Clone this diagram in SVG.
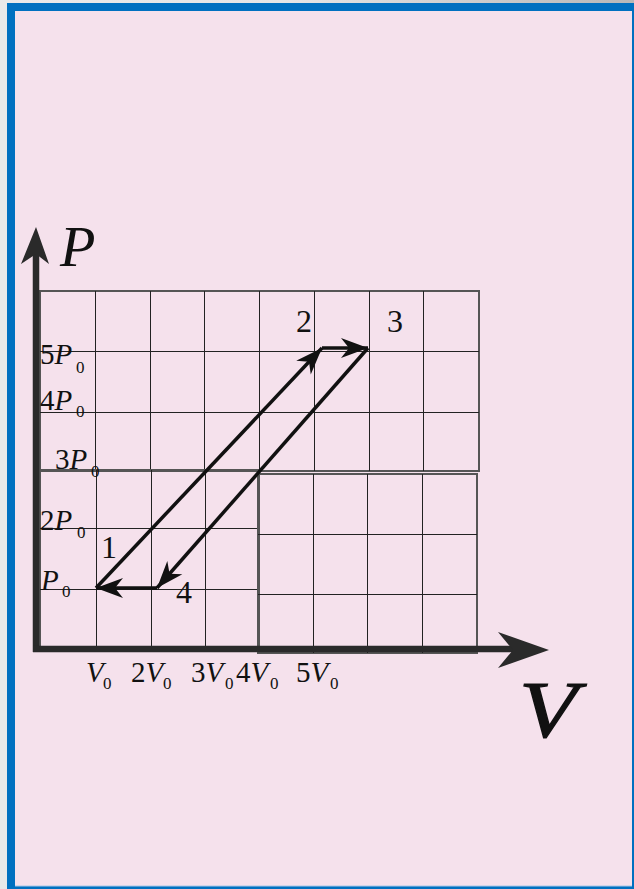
<svg xmlns="http://www.w3.org/2000/svg" width="634" height="889" viewBox="0 0 634 889">
  <defs>
    <linearGradient id="topbar" x1="0" y1="0" x2="1" y2="0">
      <stop offset="0" stop-color="#e9e9e9"/>
      <stop offset="0.45" stop-color="#e6e6e6"/>
      <stop offset="1" stop-color="#b8b8b8"/>
    </linearGradient>
    <marker id="arr" markerUnits="userSpaceOnUse" viewBox="-28 -11 30 22" refX="0" refY="0" markerWidth="30" markerHeight="22" orient="auto">
      <path d="M0,0 L-27,-10 L-19,0 L-27,10 Z" fill="#111"/>
    </marker>
  </defs>
  <style>
    .grid { stroke: #222; stroke-width: 1; fill: none; shape-rendering: crispEdges; }
    .gridb { stroke: #555; stroke-width: 1.6; fill: none; shape-rendering: crispEdges; }
    .axis { stroke: #2a2a2a; stroke-width: 6.5; fill: none; }
    .proc { stroke: #111; stroke-width: 3.5; fill: none; marker-end: url(#arr); }
    .lbl { font-family: "Liberation Serif", "Times New Roman", serif; fill: #111; }
    .tick { font-size: 29px; }
    .it { font-style: italic; }
    .sub { font-size: 17px; }
    .num { font-size: 32px; }
  </style>

  <!-- background and frame -->
  <rect x="0" y="0" width="634" height="889" fill="#e9e9e9"/>
  <rect x="0" y="0" width="634" height="3" fill="url(#topbar)"/>
  <rect x="7" y="3" width="627" height="886" fill="#0070c0"/>
  <rect x="15" y="11" width="617" height="875" fill="#f5e1ec"/>
  <line x1="15" y1="886" x2="632" y2="886" stroke="#a9c8e8" stroke-width="1"/>

  <!-- grids -->
  <g id="grid-upper">
    <rect class="gridb" x="40" y="291" width="439" height="180"/>
    <path class="grid" d="M95.5,291V471 M150.5,291V471 M204.5,291V471 M259.5,291V471 M314.5,291V471 M369.5,291V471 M423.5,291V471 M40,351.5H479 M40,412.5H479"/>
  </g>
  <g id="grid-lower-left">
    <rect class="gridb" x="40" y="470" width="219" height="178"/>
    <path class="grid" d="M96.5,470V648 M151.5,470V648 M205.5,470V648 M40,528.5H259 M40,589.5H259"/>
  </g>
  <g id="grid-lower-right">
    <rect class="gridb" x="258" y="474" width="219" height="179"/>
    <path class="grid" d="M313.5,474V653 M367.5,474V653 M422.5,474V653 M258,534.5H477 M258,594.5H477"/>
  </g>

  <!-- axes -->
  <g id="axis-p">
    <line class="axis" x1="36" y1="250" x2="36" y2="652"/>
    <path d="M36,227 L49,264 L36,254 L21,264 Z" fill="#2a2a2a"/>
    <text class="lbl it" x="60" y="266" font-size="58">P</text>
  </g>
  <g id="axis-v">
    <line class="axis" x1="33" y1="649" x2="520" y2="649"/>
    <path d="M549,650 L498,668 L513,650 L498,632 Z" fill="#2a2a2a"/>
    <text class="lbl it" font-size="81" stroke="#111" stroke-width="1.2" transform="translate(519,737) scale(1.18,1)">V</text>
  </g>

  <!-- tick labels -->
  <g id="ticks-p" class="lbl tick">
    <text x="40" y="364">5<tspan class="it">P</tspan><tspan class="sub" x="76" y="373">0</tspan></text>
    <text x="40" y="410">4<tspan class="it">P</tspan><tspan class="sub" x="76" y="417">0</tspan></text>
    <text x="55" y="469">3<tspan class="it">P</tspan><tspan class="sub" x="91" y="477">0</tspan></text>
    <text x="40" y="530">2<tspan class="it">P</tspan><tspan class="sub" x="77" y="538">0</tspan></text>
    <text x="41" y="590"><tspan class="it">P</tspan><tspan class="sub" x="62" y="597">0</tspan></text>
  </g>
  <g id="ticks-v" class="lbl tick">
    <text x="86" y="682"><tspan class="it">V</tspan><tspan class="sub" x="103" y="689">0</tspan></text>
    <text x="131" y="682">2<tspan class="it">V</tspan><tspan class="sub" x="163" y="689">0</tspan></text>
    <text x="191" y="682">3<tspan class="it">V</tspan><tspan class="sub" x="225" y="689">0</tspan></text>
    <text x="236" y="682">4<tspan class="it">V</tspan><tspan class="sub" x="270" y="689">0</tspan></text>
    <text x="296" y="682">5<tspan class="it">V</tspan><tspan class="sub" x="330" y="689">0</tspan></text>
  </g>

  <!-- state nodes -->
  <g id="state-1"><text class="lbl num" x="101" y="558">1</text></g>
  <g id="state-2"><text class="lbl num" x="296" y="332">2</text></g>
  <g id="state-3"><text class="lbl num" x="387" y="332">3</text></g>
  <g id="state-4"><text class="lbl num" x="176" y="603">4</text></g>

  <!-- process connectors -->
  <g id="connectors">
    <line class="proc" x1="96" y1="588" x2="322" y2="348"/>
    <line class="proc" x1="322" y1="348" x2="368" y2="348" stroke="#2a2a2a"/>
    <line class="proc" x1="368" y1="348" x2="157" y2="588"/>
    <line class="proc" x1="157" y1="588" x2="96" y2="588"/>
  </g>
</svg>
